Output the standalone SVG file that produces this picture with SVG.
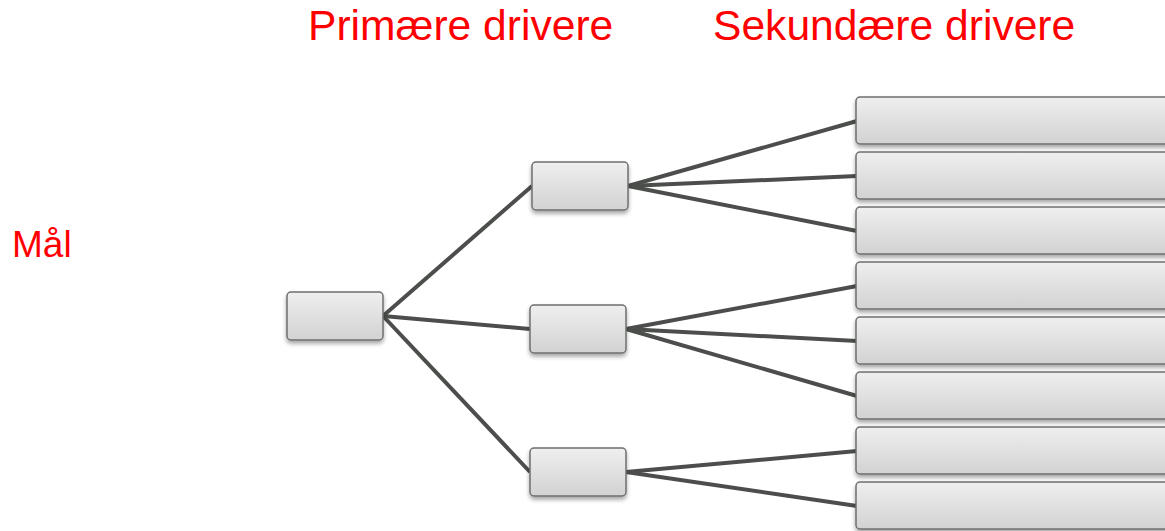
<svg xmlns="http://www.w3.org/2000/svg" width="1165" height="531" viewBox="0 0 1165 531">
<defs>
<linearGradient id="g" x1="0" y1="0" x2="0" y2="1">
<stop offset="0" stop-color="#efefef"/>
<stop offset="1" stop-color="#d2d2d2"/>
</linearGradient>
<filter id="sh" x="-20%" y="-20%" width="140%" height="150%">
<feGaussianBlur in="SourceAlpha" stdDeviation="2"/>
<feOffset dx="0" dy="3" result="b"/>
<feComponentTransfer><feFuncA type="linear" slope="0.35"/></feComponentTransfer>
<feMerge><feMergeNode/><feMergeNode in="SourceGraphic"/></feMerge>
</filter>
</defs>
<style>
.box{fill:url(#g);stroke:#6e706e;stroke-width:1.5;filter:url(#sh)}
.lbl{font-family:"Liberation Sans",Arial,sans-serif;fill:#ff0000}
.con line{stroke:#4b4e4b;stroke-width:4;stroke-linecap:butt}
</style>
<rect width="1165" height="531" fill="#ffffff"/>
<text class="lbl" x="12" y="257" font-size="37">Mål</text>
<text class="lbl" x="308" y="40" font-size="42.6">Primære drivere</text>
<text class="lbl" x="713" y="40" font-size="42.6">Sekundære drivere</text>
<g id="connectors" class="con">
<line x1="383" y1="316" x2="532" y2="186"/>
<line x1="383" y1="316" x2="530" y2="329"/>
<line x1="383" y1="316" x2="530" y2="472"/>
<line x1="628" y1="186" x2="857" y2="121"/>
<line x1="628" y1="186" x2="857" y2="176"/>
<line x1="628" y1="186" x2="857" y2="231"/>
<line x1="626" y1="329" x2="857" y2="286"/>
<line x1="626" y1="329" x2="857" y2="341"/>
<line x1="626" y1="329" x2="857" y2="396"/>
<line x1="626" y1="472" x2="857" y2="451"/>
<line x1="626" y1="472" x2="857" y2="506"/>
</g>
<g id="goal"><rect class="box" x="287" y="292" width="96" height="48" rx="4"/></g>
<g id="p1"><rect class="box" x="532" y="162" width="96" height="48" rx="4"/></g>
<g id="p2"><rect class="box" x="530" y="305" width="96" height="48" rx="4"/></g>
<g id="p3"><rect class="box" x="530" y="448" width="96" height="48" rx="4"/></g>
<g id="s1"><rect class="box" x="856" y="97" width="320" height="47" rx="4"/></g>
<g id="s2"><rect class="box" x="856" y="152" width="320" height="47" rx="4"/></g>
<g id="s3"><rect class="box" x="856" y="207" width="320" height="47" rx="4"/></g>
<g id="s4"><rect class="box" x="856" y="262" width="320" height="47" rx="4"/></g>
<g id="s5"><rect class="box" x="856" y="317" width="320" height="47" rx="4"/></g>
<g id="s6"><rect class="box" x="856" y="372" width="320" height="47" rx="4"/></g>
<g id="s7"><rect class="box" x="856" y="427" width="320" height="47" rx="4"/></g>
<g id="s8"><rect class="box" x="856" y="482" width="320" height="47" rx="4"/></g>
</svg>
